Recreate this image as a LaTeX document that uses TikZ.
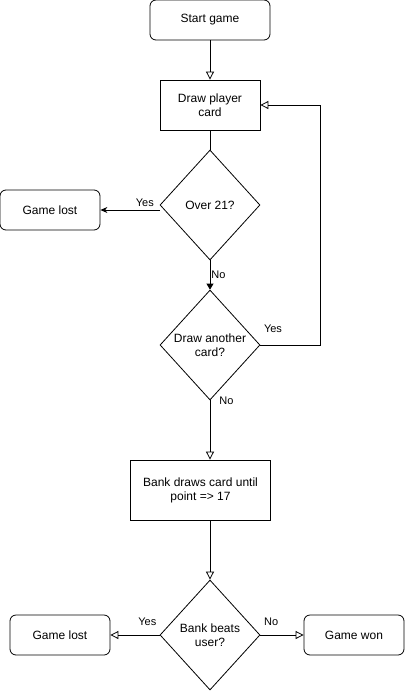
\documentclass[tikz,border=0pt]{standalone}
\usepackage{fontspec}
\setmainfont{Liberation Sans}
\usetikzlibrary{shapes.geometric,arrows.meta}

\begin{document}
\begin{tikzpicture}[x=1pt,y=-1pt,line width=0.8pt,
    font=\fontsize{12}{14}\selectfont,
    endbox/.style={rectangle,rounded corners=6pt,draw,minimum width=120pt,minimum height=40pt,inner sep=0pt},
    stepbox/.style={rectangle,draw,minimum width=100pt,minimum height=50pt,align=center,inner sep=0pt},
    query/.style={diamond,draw,aspect=0.9,minimum width=100pt,minimum height=110pt,align=center,inner sep=0pt},
    openhead/.style={-{Triangle[open,length=8pt,width=8pt]}},
    fullhead/.style={-{Triangle[length=6pt,width=7pt]}},
    lbl/.style={font=\fontsize{11}{13}\selectfont,inner sep=1pt}]
      \useasboundingbox (0,0) rectangle (405,691);
      \node (start) at (210,20) [endbox] {Start game};
      \node (player) at (210,105) [stepbox] {Draw player\\card};
      \node (over) at (210,205) [query] {Over 21?};
      \node (lost1) at (50,210) [endbox,minimum width=100pt] {Game lost};
      \node (another) at (210,345) [query] {Draw another\\card?};
      \node (bank) at (200.5,490) [stepbox,minimum width=140pt,minimum height=60pt] {Bank draws card until\\point =\textgreater{} 17};
      \node (beats) at (210,635) [query] {Bank beats\\user?};
      \node (lost2) at (60,635) [endbox,minimum width=100pt] {Game lost};
      \node (won) at (354,635) [endbox,minimum width=100pt] {Game won};
      \coordinate (loop) at (320,345);
      \draw [openhead] (start) to (player);
      \draw (player) to (over);
      \draw [-{Stealth[length=7pt,width=6pt]}] (over.west |- lost1) to node [lbl,above,pos=0.25,yshift=2pt] {Yes} (lost1);
      \draw [fullhead] (over) to node [lbl,right] {No} (another);
      \draw [openhead] (another.east) -- (loop) |- (player.east);
      \node [lbl] at (273,329) {Yes};
      \draw [openhead] (another.south) to node [lbl,right,pos=0.0,xshift=8pt] {No} (another.south |- bank.north);
      \draw [openhead] (bank.south -| beats) to (beats);
      \draw [openhead] (beats) to node [lbl,above,pos=0.25,yshift=8pt] {Yes} (lost2);
      \draw [openhead] (beats) to node [lbl,above,pos=0.25,yshift=8pt] {No} (won);
    \end{tikzpicture}
\end{document}
